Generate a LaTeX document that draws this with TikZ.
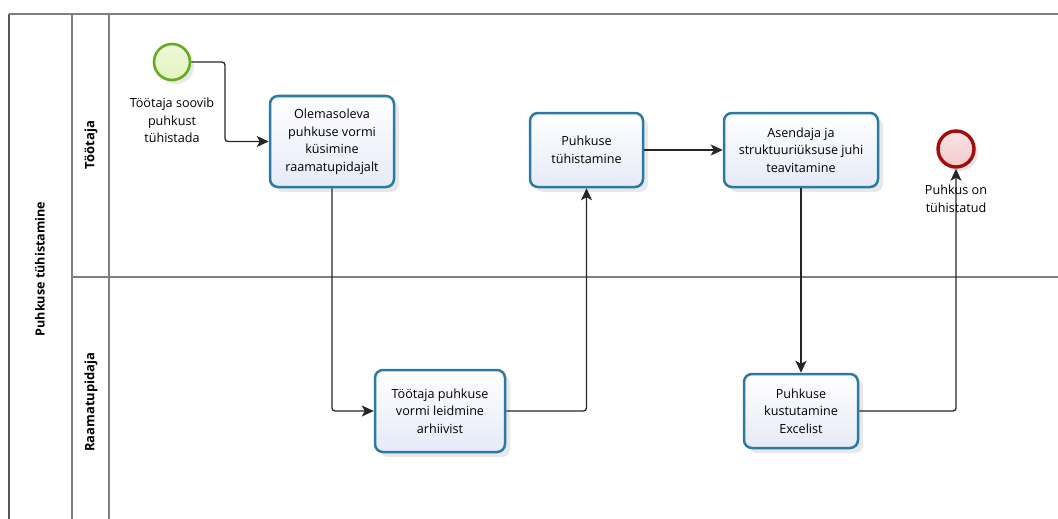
\documentclass[tikz,border=0pt]{standalone}
\usepackage{fontspec}
\setmainfont{Open Sans}
\usetikzlibrary{arrows.meta,shadows}
\definecolor{taskline}{HTML}{2B7AA6}
\definecolor{taskfill}{HTML}{E6EAF8}
\definecolor{startline}{HTML}{64AC1E}
\definecolor{startfill}{HTML}{E4F3C0}
\definecolor{endline}{HTML}{A30B0B}
\definecolor{endfill}{HTML}{F3C9CB}
\definecolor{laneline}{HTML}{7F7F7F}
\definecolor{poolline}{HTML}{555555}
\begin{document}
\begin{tikzpicture}[x=1pt,y=-1pt,
  tasknode/.style={draw=taskline, line width=2.5pt, rounded corners=8pt,
    top color=white, bottom color=taskfill, align=center,
    font=\fontsize{12.6}{17.5}\selectfont, inner sep=2pt,
    drop shadow={opacity=0.18, shadow xshift=5pt, shadow yshift=-5pt}},
  startev/.style={circle, draw=startline, line width=2.6pt, minimum size=36pt,
    inner sep=0pt, top color=startfill!60!white, bottom color=startfill,
    drop shadow={opacity=0.18, shadow xshift=4pt, shadow yshift=-4pt}},
  endev/.style={circle, draw=endline, line width=3.4pt, minimum size=36pt,
    inner sep=0pt, top color=endfill!50!white, bottom color=endfill,
    drop shadow={opacity=0.18, shadow xshift=4pt, shadow yshift=-4pt}},
  evlabel/.style={align=center, font=\fontsize{12.6}{17.5}\selectfont, inner sep=0pt},
  flow/.style={draw=black!85, line width=1.3pt, rounded corners=3pt,
    -{Stealth[length=12pt,width=11pt,inset=3pt]}},
  lanelabel/.style={rotate=90, font=\fontsize{13}{15}\selectfont\bfseries, inner sep=0pt}
]
\useasboundingbox (0,0) rectangle (1058,519);

% pool and lanes
\draw[poolline, line width=2.6pt] (9,14) -- (9,530);
\draw[laneline, line width=1.4pt] (9,14) -- (1070,14);
\draw[laneline, line width=1.4pt] (72,14) -- (72,530);
\draw[laneline, line width=1.4pt] (109,14) -- (109,530);
\draw[laneline, line width=1.2pt] (72,277) -- (1070,277);

\node[lanelabel, font=\fontsize{12.6}{15}\selectfont\bfseries] (pool) at (40,269) {Puhkuse tühistamine};
\node[lanelabel] (laneA) at (91,145) {Töötaja};
\node[lanelabel] (laneB) at (91,402) {Raamatupidaja};

% events
\node[startev] (start) at (172,62) {};
\node[evlabel] (startlbl) at (172,120.5) {Töötaja soovib\\puhkust\\tühistada};
\node[endev] (end) at (956,149) {};

% tasks
\node[tasknode, minimum width=124pt, minimum height=91pt] (t1) at (332,141.5)
  {Olemasoleva\\puhkuse vormi\\küsimine\\raamatupidajalt};
\node[tasknode, minimum width=113pt, minimum height=74pt] (t2) at (586.5,150)
  {Puhkuse\\tühistamine};
\node[tasknode, minimum width=154pt, minimum height=74pt] (t3) at (801,150)
  {Asendaja ja\\struktuuriüksuse juhi\\teavitamine};
\node[tasknode, minimum width=130pt, minimum height=82pt] (t4) at (440,411)
  {Töötaja puhkuse\\vormi leidmine\\arhiivist};
\node[tasknode, minimum width=114pt, minimum height=74pt] (t5) at (801,411)
  {Puhkuse\\kustutamine\\Excelist};

% sequence flows
\draw[flow] (start.east) -- (225,62) -- (225,141.5) -- (t1.west);
\draw[flow] (t1.south) -- (332,411) -- (t4.west);
\draw[flow] (t4.east) -- (586.5,411) -- (t2.south);
\draw[flow] (t2.east) -- (t3.west);
\draw[flow] (t3.south) -- (t5.north);
\draw[flow] (t5.east) -- (956,411) -- (end.south);

\node[evlabel] (endlbl) at (956,199) {Puhkus on\\tühistatud};
\end{tikzpicture}
\end{document}
